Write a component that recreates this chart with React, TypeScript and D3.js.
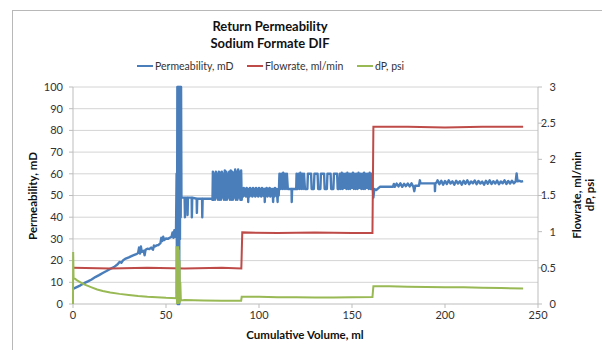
import * as d3 from "d3";

// Return permeability test, sodium formate DIF
// x: cumulative volume (ml); perm on left axis, flowrate & dP on right axis

const permeability: [number, number][] = [
  [0, 7], [2, 7.8], [4, 8.6], [6, 9.6], [8, 10.4], [10, 11.3], [12, 12.4], [14, 13.3], [16, 14.3],
  [18, 15.2], [20, 16.2], [22, 17], [24, 18.3], [25, 19.4], [26, 19], [27, 20.2], [28, 20.8],
  [30, 21.5], [32, 22.3], [34, 23], [35, 23.5], [35.5, 26], [36, 23.2], [36.5, 26.5], [37, 24],
  [38, 24.5], [38.5, 22.5], [39, 25], [40, 25.5], [41, 25.3], [42, 26], [43, 25], [43.5, 27],
  [44, 26.5], [45, 27], [46, 27.2], [47, 28], [47.5, 30.5], [48, 29], [48.5, 31], [49, 29.5],
  [50, 30.2], [51, 30], [52, 30.5], [53, 31], [53.5, 33], [54, 30.5], [54.5, 34], [55, 31], [55.4, 35],
  // spike
  [55.7, 60], [55.9, 5], [56.1, 100], [56.3, 0], [56.5, 100], [56.7, 20], [56.9, 100], [57.1, 0],
  [57.3, 100], [57.5, 30], [57.7, 100], [57.9, 40], [58.1, 100], [58.3, 49],
  [59, 49], [60, 49], [60.2, 40], [60.4, 49], [61.5, 49], [61.6, 41], [61.8, 49], [63.8, 49],
  [63.9, 40], [64.1, 49], [66.5, 48.5], [66.6, 42], [66.8, 48.5], [69.4, 48.5], [69.5, 40],
  [69.7, 48.5], [72, 48.5], [74.7, 48.5],
  // 75-91 noisy block
  [75, 48], [75.2, 61], [75.6, 48], [76, 60], [76.4, 48], [76.8, 61], [77.2, 49], [77.6, 60],
  [78, 48], [78.4, 61], [78.8, 48], [79.2, 60.5], [79.6, 48], [80, 61], [80.4, 49], [80.8, 60],
  [81.2, 48], [81.6, 61.5], [82, 48], [82.4, 61], [82.8, 48], [83.2, 60], [83.6, 49], [84, 61],
  [84.4, 48], [84.8, 61.5], [85.2, 48], [85.6, 61], [86, 48], [86.4, 60.5], [86.8, 49], [87.2, 62],
  [87.6, 48], [88, 61], [88.4, 48], [88.8, 62], [89.2, 49], [89.6, 61], [90, 48], [90.4, 61.5],
  [90.7, 48],
  // 91-111 band
  [91, 53], [91.4, 49.5], [91.8, 53.5], [92.2, 50], [92.6, 53], [93, 49.5], [93.4, 53.5], [93.8, 50],
  [94, 53], [94.2, 47], [94.4, 53], [94.8, 49.5], [95.2, 53.5], [95.6, 50], [96, 53], [96.4, 49.5],
  [96.8, 53.5], [97.2, 50], [97.6, 53], [98, 49.5], [98.4, 53.5], [98.8, 50], [99.2, 53],
  [99.6, 49.5], [100, 53.5], [100.4, 50], [100.8, 53], [101.2, 49.5], [101.6, 53.5], [102, 50],
  [102.4, 53], [102.8, 49.5], [103, 53], [103.1, 47], [103.3, 53], [103.7, 50], [104.1, 53.5],
  [104.5, 49.5], [104.9, 53], [105.3, 50], [105.7, 53.5], [106.1, 49.5], [106.5, 53], [106.9, 50],
  [107.3, 53], [107.6, 47], [107.8, 53], [108.2, 49.5], [108.6, 53.5], [109, 50], [109.4, 53],
  [109.8, 49.5], [110, 47], [110.2, 53], [110.6, 50], [111, 60], [111.5, 53], [112, 60],
  [112.5, 53], [113, 60.5], [113.5, 53], [114, 60], [114.5, 53], [115, 60], [115.5, 53], [116, 53],
  [117.5, 53], [117.6, 47], [117.8, 53], [120, 53],
  [120.2, 60], [120.7, 53], [121.2, 60], [121.7, 53], [122.2, 60.5], [122.7, 53], [123.2, 60],
  [123.7, 53], [124.2, 60], [124.7, 53],
  [126, 53], [126.3, 60], [128, 60], [128.3, 53], [129.5, 53], [129.8, 60], [131.5, 60], [131.8, 53],
  [133, 53], [133.3, 60], [135, 60], [135.3, 53], [136.5, 53], [136.8, 60], [138.5, 60], [138.8, 53],
  [140, 53], [140.3, 60], [142, 60], [142.3, 53], [143, 53],
  // 143-161 dense block
  [143.5, 60], [144, 53], [144.5, 60.5], [145, 53], [145.5, 60], [146, 53.5], [146.5, 60], [147, 53],
  [147.5, 60.5], [148, 53], [148.5, 60], [149, 53], [149.5, 60], [150, 53.5], [150.5, 60.5],
  [151, 53], [151.5, 60], [152, 53], [152.5, 60], [153, 53], [153.5, 60.5], [154, 53.5], [154.5, 60],
  [155, 53], [155.5, 60], [156, 53], [156.5, 60.5], [157, 53], [157.5, 60], [158, 53.5],
  [158.5, 60], [159, 53], [159.5, 60.5], [160, 53], [160.5, 60], [161, 53],
  [161.3, 52], [161.5, 49], [162, 53], [163, 52.5], [165, 54], [172, 54], [172.5, 55.3], [173, 54],
  [174, 55.5], [175, 54.2], [176, 55.6], [177, 54], [178, 55.4], [179, 54.3], [180, 55.5],
  [181, 54.2], [182, 55.6], [183, 54], [183.5, 52], [184, 54.5], [186, 54.5], [186.5, 57],
  [186.8, 55.6], [194.5, 55.6], [194.6, 52], [194.8, 55.6], [195.5, 56], [196, 57], [197, 55.2],
  [198, 56.8], [199, 55], [200, 56.7], [201, 55.3], [202, 57], [203, 55.5], [204, 56.5], [205, 55],
  [206, 56.8], [207, 55.5], [208, 56.6], [209, 55], [210, 56.8], [211, 55.4], [212, 57], [213, 55.2],
  [214, 56.5], [215, 55.6], [216, 56.9], [217, 55.2], [218, 56.7], [219, 55.5], [220, 56.4],
  [221, 55], [222, 56.8], [223, 55.4], [224, 57], [225, 55.3], [226, 56.6], [227, 55.5], [228, 56.9],
  [229, 55.2], [230, 56.5], [231, 55.6], [232, 57], [233, 55.3], [234, 56.7], [235, 55.5],
  [236, 56.8], [237, 55.6], [238, 56.5], [238.5, 60.2], [239, 56.5], [240, 56.8], [241, 56.4],
  [242, 56.6],
];

const flowrate: [number, number][] = [
  [0, 0.5], [20, 0.49], [40, 0.5], [60, 0.49], [80, 0.5], [90.5, 0.49], [91, 0.99], [110, 0.98],
  [130, 0.99], [150, 0.98], [161, 0.98], [161.5, 2.45], [180, 2.45], [200, 2.44], [220, 2.45],
  [242, 2.45],
];

const dP: [number, number][] = [
  [0, 0], [0.1, 0.72], [0.3, 0.36], [1, 0.35], [2, 0.33], [4, 0.3], [6, 0.27], [8, 0.25], [10, 0.23],
  [13, 0.2], [16, 0.18], [20, 0.16], [25, 0.14], [30, 0.125], [35, 0.11], [40, 0.1], [45, 0.093],
  [50, 0.085], [55.5, 0.08], [55.7, 0.8], [55.9, 0], [56.1, 0.8], [56.3, 0.02], [56.5, 0.8],
  [56.7, 0], [56.9, 0.75], [57.1, 0.01], [57.3, 0.6], [57.5, 0.02], [57.7, 0.3], [58, 0.05],
  [60, 0.055], [70, 0.05], [80, 0.045], [90.4, 0.045], [90.7, 0.1], [100, 0.1], [110, 0.095],
  [120, 0.095], [130, 0.09], [140, 0.09], [150, 0.092], [161, 0.095], [161.5, 0.245], [170, 0.245],
  [180, 0.24], [190, 0.235], [200, 0.23], [210, 0.23], [220, 0.225], [230, 0.22], [242, 0.215],
];

const xTicks = [0, 50, 100, 150, 200, 250];
const leftTicks = [0, 10, 20, 30, 40, 50, 60, 70, 80, 90, 100];
const rightTicks = [0, 0.5, 1, 1.5, 2, 2.5, 3];

const legendItems = [
  { label: "Permeability, mD", color: "#4a7ebb", x: 137 },
  { label: "Flowrate, ml/min", color: "#be4b48", x: 247 },
  { label: "dP, psi", color: "#98b954", x: 357 },
];

const W = 602;
const H = 350;
const plot = { left: 73, right: 538, top: 87, bottom: 304 };
const font = "Lato, 'Liberation Sans', sans-serif";

export default function App() {
  const x = d3.scaleLinear().domain([0, 250]).range([plot.left, plot.right]);
  const yL = d3.scaleLinear().domain([0, 100]).range([plot.bottom, plot.top]);
  const yR = d3.scaleLinear().domain([0, 3]).range([plot.bottom, plot.top]);

  const lineL = d3.line<[number, number]>().x(d => x(d[0])).y(d => yL(d[1]));
  const lineR = d3.line<[number, number]>().x(d => x(d[0])).y(d => yR(d[1]));

  return (
    <svg width={W} height={H} style={{ position: "absolute", left: 0, top: 0, background: "#fff" }}>
      <rect x={12.5} y={10.5} width={W} height={H} fill="#fff" stroke="#b8b8b8" />

      {/* gridlines */}
      {leftTicks.slice(1).map(t => (
        <line key={t} x1={plot.left} x2={plot.right} y1={yL(t)} y2={yL(t)} stroke="#d4d4d4" />
      ))}

      {/* axes */}
      <line x1={plot.left} x2={plot.left} y1={plot.top} y2={plot.bottom} stroke="#bdbdbd" />
      <line x1={plot.right} x2={plot.right} y1={plot.top} y2={plot.bottom} stroke="#bdbdbd" />
      <line x1={plot.left} x2={plot.right} y1={plot.bottom} y2={plot.bottom} stroke="#bdbdbd" />

      {leftTicks.map(t => (
        <g key={t}>
          <line x1={plot.left - 4} x2={plot.left} y1={yL(t)} y2={yL(t)} stroke="#bdbdbd" />
          <text x={63} y={yL(t)} dy="0.35em" textAnchor="end" fontSize={11} fontFamily={font} fill="#333">
            {t}
          </text>
        </g>
      ))}
      {rightTicks.map(t => (
        <g key={t}>
          <line x1={plot.right} x2={plot.right + 4} y1={yR(t)} y2={yR(t)} stroke="#bdbdbd" />
          <text x={556} y={yR(t)} dy="0.35em" textAnchor="end" fontSize={11} fontFamily={font} fill="#333">
            {t}
          </text>
        </g>
      ))}
      {xTicks.map(t => (
        <g key={t}>
          <line x1={x(t)} x2={x(t)} y1={plot.bottom} y2={plot.bottom + 4} stroke="#bdbdbd" />
          <text x={x(t)} y={315} dy="0.35em" textAnchor="middle" fontSize={11} fontFamily={font} fill="#333">
            {t}
          </text>
        </g>
      ))}

      {/* series */}
      <path d={lineL(permeability) ?? ""} fill="none" stroke="#4a7ebb" strokeWidth={2.4} strokeLinejoin="round" />
      <path d={lineR(flowrate) ?? ""} fill="none" stroke="#be4b48" strokeWidth={2} />
      <path d={lineR(dP) ?? ""} fill="none" stroke="#98b954" strokeWidth={2} />

      {/* titles */}
      <text x={270} y={26} dy="0.35em" textAnchor="middle" fontSize={13} fontWeight="bold" fontFamily={font} fill="#111">
        Return Permeability
      </text>
      <text x={270} y={43} dy="0.35em" textAnchor="middle" fontSize={13} fontWeight="bold" fontFamily={font} fill="#111">
        Sodium Formate DIF
      </text>

      {legendItems.map(l => (
        <g key={l.label}>
          <line x1={l.x} x2={l.x + 16} y1={66} y2={66} stroke={l.color} strokeWidth={2} />
          <text x={l.x + 18} y={66} dy="0.35em" fontSize={10.5} fontFamily={font} fill="#333">
            {l.label}
          </text>
        </g>
      ))}

      <text x={305} y={335} dy="0.35em" textAnchor="middle" fontSize={11.5} fontWeight="bold" fontFamily={font} fill="#111">
        Cumulative Volume, ml
      </text>
      <text transform="translate(33,196) rotate(-90)" dy="0.35em" textAnchor="middle" fontSize={11.5} fontWeight="bold" fontFamily={font} fill="#111">
        Permeability, mD
      </text>
      <text transform="translate(577,195) rotate(-90)" dy="0.35em" textAnchor="middle" fontSize={11.5} fontWeight="bold" fontFamily={font} fill="#111">
        Flowrate, ml/min
      </text>
      <text transform="translate(590,195) rotate(-90)" dy="0.35em" textAnchor="middle" fontSize={11.5} fontWeight="bold" fontFamily={font} fill="#111">
        dP, psi
      </text>
    </svg>
  );
}
